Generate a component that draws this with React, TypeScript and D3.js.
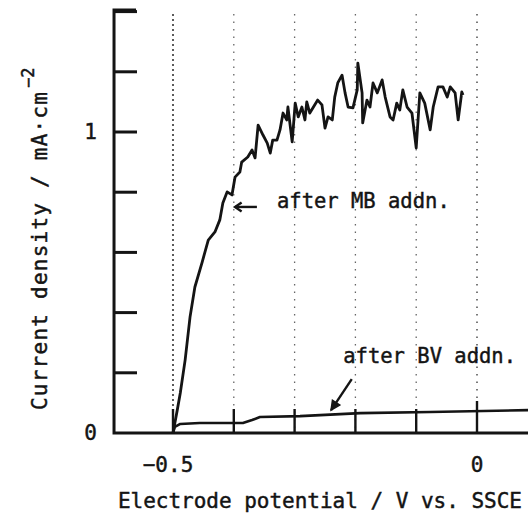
import React from 'react';
import * as d3 from 'd3';

// ---- data ----
const mbPotential = [
  -0.5, -0.493, -0.488, -0.48, -0.472, -0.464, -0.452, -0.442, -0.431, -0.423, -0.418, -0.411,
  -0.403, -0.398, -0.39, -0.387, -0.377, -0.37, -0.365, -0.36, -0.352, -0.345, -0.34, -0.336,
  -0.329, -0.324, -0.319, -0.313, -0.311, -0.304, -0.299, -0.294, -0.288, -0.283, -0.28, -0.275,
  -0.27, -0.262, -0.255, -0.25, -0.245, -0.238, -0.234, -0.229, -0.222, -0.217, -0.212, -0.204,
  -0.197, -0.196, -0.189, -0.188, -0.181, -0.176, -0.171, -0.164, -0.156, -0.151, -0.143, -0.138,
  -0.132, -0.127, -0.122, -0.115, -0.107, -0.1, -0.094, -0.086, -0.077, -0.072, -0.064, -0.056,
  -0.049, -0.044, -0.036, -0.031, -0.025, -0.023,
];
const mbCurrent = [
  0, 0.076, 0.133, 0.243, 0.385, 0.485, 0.568, 0.641, 0.668, 0.708, 0.764, 0.801,
  0.791, 0.85, 0.867, 0.9, 0.917, 0.94, 0.914, 1.023, 0.99, 0.963, 0.93, 0.973,
  0.973, 1.007, 1.063, 1.04, 1.083, 0.967, 1.096, 1.05, 1.083, 1.04, 1.1, 1.063,
  1.08, 1.106, 1.09, 1.013, 1.05, 1.04, 1.116, 1.163, 1.189, 1.13, 1.083, 1.08,
  1.14, 1.229, 1.13, 1.03, 1.106, 1.083, 1.163, 1.13, 1.173, 1.116, 1.05, 1.04,
  1.096, 1.073, 1.14, 1.083, 1.063, 0.947, 1.13, 1.096, 1.007, 1.083, 1.15, 1.15,
  1.116, 1.15, 1.13, 1.04, 1.133, 1.123,
];
const bvPotential = [-0.5, -0.497, -0.488, -0.456, -0.385, -0.37, -0.357, -0.291, -0.192, -0.077, 0.084];
const bvCurrent = [0, 0.02, 0.03, 0.033, 0.033, 0.043, 0.053, 0.056, 0.066, 0.07, 0.076];

const xTicks = [-0.5, -0.4, -0.3, -0.2, -0.1, 0];
const xLabelValues = [-0.5, 0];
const xLabelTexts = ['\u22120.5', '0'];
const yTicks = [0.2, 0.4, 0.6, 0.8, 1.0, 1.2, 1.4];
const yLabelValues = [0, 1];
const yLabelTexts = ['0', '1'];

const xAxisTitle = 'Electrode potential / V vs. SSCE';
const yAxisTitle = 'Current density / mA\u00b7cm';
const yAxisSup = '\u22122';
const mbNote = 'after MB addn.';
const bvNote = 'after BV addn.';

const W = 528;
const H = 517;
const FONT = '"DejaVu Sans Mono", "Liberation Mono", monospace';
const INK = '#141414';
const TXT = { fill: INK, stroke: INK, strokeWidth: 0.45 };

export default function App() {
  const x = d3.scaleLinear().domain([-0.5, 0]).range([173, 477]);
  const y = d3.scaleLinear().domain([0, 1]).range([433, 132]);
  const axisX = x(-0.597);
  const y0 = y(0);
  const yTop = y(1.405);

  const line = d3
    .line<[number, number]>()
    .x((d) => x(d[0]))
    .y((d) => y(d[1]));

  const mbPts: [number, number][] = mbPotential.map((v, i) => [v, mbCurrent[i]]);
  const bvPts: [number, number][] = bvPotential.map((v, i) => [v, bvCurrent[i]]);

  // annotation anchors in data units
  const mbArrowTip = [x(-0.398), y(0.751)];
  const mbArrowTail = [x(-0.362), y(0.751)];
  const bvArrowTip = [x(-0.24), y(0.076)];
  const bvArrowTail = [x(-0.206), y(0.179)];

  const head = (tip: number[], tail: number[], len: number, spread: number) => {
    const a = Math.atan2(tail[1] - tip[1], tail[0] - tip[0]);
    const p1 = [tip[0] + len * Math.cos(a + spread), tip[1] + len * Math.sin(a + spread)];
    const p2 = [tip[0] + len * Math.cos(a - spread), tip[1] + len * Math.sin(a - spread)];
    return `M${p1[0]},${p1[1]}L${tip[0]},${tip[1]}L${p2[0]},${p2[1]}`;
  };

  return (
    <svg
      width={W}
      height={H}
      style={{ position: 'absolute', left: 0, top: 0, background: '#fff' }}
      fontFamily={FONT}
    >
      <rect x={0} y={0} width={W} height={H} fill="#fff" />
      {/* dotted vertical grid of the chart paper */}
      {xTicks.map((t, i) => (
        <line
          key={'g' + t}
          x1={x(t)}
          x2={x(t)}
          y1={14}
          y2={y0 - 4}
          stroke={i === 0 || t === 0 ? '#333' : '#666'}
          strokeWidth={i === 0 ? 1.6 : 1.3}
          strokeDasharray={i === 0 ? '2 3' : '1.5 6'}
        />
      ))}

      {/* axes */}
      <path
        d={`M${axisX + 22},${yTop}H${axisX}V${y0}H${W}`}
        fill="none"
        stroke={INK}
        strokeWidth={3}
      />
      {yTicks.map((t) => (
        <line key={'yt' + t} x1={axisX} x2={axisX + 23} y1={y(t)} y2={y(t)} stroke={INK} strokeWidth={3} />
      ))}
      {xTicks.map((t) => (
        <line
          key={'xt' + t}
          x1={x(t)}
          x2={x(t)}
          y1={y0}
          y2={y0 - (t === 0 ? 32 : 24)}
          stroke={INK}
          strokeWidth={2.4}
        />
      ))}

      {/* tick labels */}
      {yLabelValues.map((v, i) => (
        <text key={'yl' + v} x={97} y={y(v) + 7} fontSize={21} textAnchor="end" {...TXT}>
          {yLabelTexts[i]}
        </text>
      ))}
      {xLabelValues.map((v, i) => (
        <text key={'xl' + v} x={x(v) - (v < 0 ? 5 : 0)} y={472} fontSize={21} textAnchor="middle" {...TXT}>
          {xLabelTexts[i]}
        </text>
      ))}

      {/* axis titles */}
      <text x={118} y={508} fontSize={21} {...TXT} textLength={404} lengthAdjust="spacing">
        {xAxisTitle}
      </text>
      <g transform={`translate(47,410) rotate(-90)`}>
        <text x={0} y={0} fontSize={21} {...TXT} textLength={318} lengthAdjust="spacing">
          {yAxisTitle}
        </text>
      </g>
      <g transform={`translate(34,88) rotate(-90)`}>
        <text x={0} y={0} fontSize={17} {...TXT}>
          {yAxisSup}
        </text>
      </g>

      {/* curves */}
      <path d={line(bvPts) || ''} fill="none" stroke={INK} strokeWidth={2.6} strokeLinejoin="round" />
      <path d={line(mbPts) || ''} fill="none" stroke={INK} strokeWidth={2.8} strokeLinejoin="round" />

      {/* annotations */}
      <path
        d={`M${mbArrowTail[0]},${mbArrowTail[1]}L${mbArrowTip[0]},${mbArrowTip[1]}`}
        stroke={INK}
        strokeWidth={2.4}
      />
      <path d={head(mbArrowTip, mbArrowTail, 8, 0.6)} fill="none" stroke={INK} strokeWidth={2.4} />
      <text x={x(-0.329)} y={y(0.748)} fontSize={20.5} {...TXT}>
        {mbNote}
      </text>

      <path
        d={`M${bvArrowTail[0]},${bvArrowTail[1]}L${bvArrowTip[0]},${bvArrowTip[1]}`}
        stroke={INK}
        strokeWidth={2.4}
      />
      <path d={head(bvArrowTip, bvArrowTail, 10, 0.45) + 'Z'} fill={INK} stroke={INK} strokeWidth={1.5} />
      <text x={x(-0.22)} y={y(0.233)} fontSize={20.5} {...TXT}>
        {bvNote}
      </text>
    </svg>
  );
}
